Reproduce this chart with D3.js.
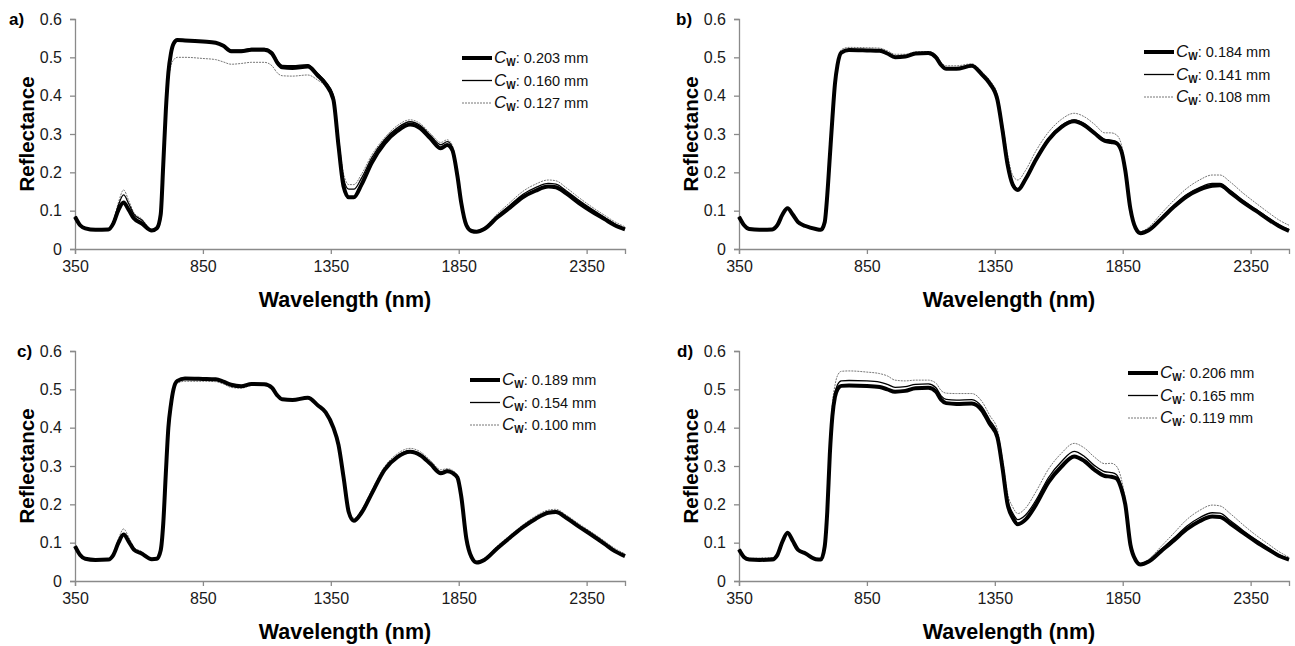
<!DOCTYPE html>
<html>
<head>
<meta charset="utf-8">
<script src="https://cdn.jsdelivr.net/npm/d3@7"></script>
<style>
  body { margin: 0; background: #fff; }
  svg { display: block; font-family: "Liberation Sans", Arial, sans-serif; }
</style>
</head>
<body>
<div id="chart"></div>
<script>
// wavelength grid (nm) shared by all spectra
const wavelengths = [350, 370, 390, 430, 480, 500, 520, 540, 560, 580, 610, 650, 670, 685, 695, 705, 715, 725, 735, 750,
  780, 850, 900, 930, 960, 1000, 1040, 1090, 1120, 1140, 1160, 1200, 1260, 1300, 1330, 1360, 1380, 1400, 1420, 1440,
  1470, 1510, 1560, 1610, 1660, 1700, 1740, 1780, 1805, 1825, 1845, 1860, 1880, 1900, 1920, 1950, 2000, 2050, 2100, 2150,
  2200, 2230, 2270, 2320, 2370, 2420, 2460, 2500]

// panel a
const a203 = [0.084, 0.062, 0.054, 0.050, 0.051, 0.067, 0.102, 0.121, 0.102, 0.080, 0.067, 0.048, 0.054, 0.090, 0.220, 0.360, 0.460, 0.510, 0.535, 0.545,
  0.544, 0.541, 0.538, 0.530, 0.516, 0.516, 0.520, 0.520, 0.510, 0.487, 0.474, 0.472, 0.476, 0.452, 0.430, 0.390, 0.270, 0.163, 0.135, 0.135,
  0.168, 0.225, 0.276, 0.308, 0.325, 0.315, 0.288, 0.263, 0.271, 0.258, 0.190, 0.120, 0.062, 0.047, 0.045, 0.052, 0.082, 0.108, 0.135, 0.152,
  0.163, 0.161, 0.145, 0.120, 0.098, 0.078, 0.062, 0.051]
const a160 = [0.085, 0.063, 0.055, 0.051, 0.052, 0.071, 0.115, 0.141, 0.118, 0.091, 0.076, 0.050, 0.055, 0.090, 0.220, 0.360, 0.460, 0.510, 0.535, 0.545,
  0.545, 0.542, 0.539, 0.532, 0.519, 0.519, 0.523, 0.523, 0.514, 0.492, 0.479, 0.478, 0.481, 0.457, 0.436, 0.400, 0.285, 0.183, 0.156, 0.156,
  0.185, 0.238, 0.285, 0.316, 0.332, 0.322, 0.296, 0.272, 0.280, 0.266, 0.195, 0.122, 0.063, 0.048, 0.046, 0.054, 0.086, 0.114, 0.142, 0.160,
  0.171, 0.169, 0.152, 0.127, 0.104, 0.083, 0.066, 0.054]
const a127 = [0.085, 0.064, 0.056, 0.052, 0.053, 0.073, 0.122, 0.154, 0.126, 0.095, 0.079, 0.052, 0.056, 0.090, 0.210, 0.340, 0.435, 0.478, 0.493, 0.500,
  0.500, 0.497, 0.494, 0.488, 0.482, 0.484, 0.487, 0.487, 0.478, 0.460, 0.452, 0.451, 0.454, 0.440, 0.425, 0.398, 0.292, 0.196, 0.168, 0.168,
  0.195, 0.245, 0.290, 0.322, 0.337, 0.327, 0.301, 0.278, 0.285, 0.270, 0.198, 0.125, 0.066, 0.050, 0.048, 0.057, 0.091, 0.121, 0.150, 0.169,
  0.180, 0.178, 0.160, 0.134, 0.110, 0.088, 0.071, 0.058]

// panel b
const b184 = [0.084, 0.062, 0.052, 0.050, 0.051, 0.062, 0.090, 0.106, 0.090, 0.071, 0.060, 0.052, 0.050, 0.070, 0.140, 0.240, 0.340, 0.430, 0.480, 0.512,
  0.519, 0.518, 0.517, 0.510, 0.500, 0.502, 0.510, 0.511, 0.500, 0.480, 0.470, 0.470, 0.478, 0.455, 0.432, 0.390, 0.310, 0.220, 0.168, 0.154,
  0.182, 0.232, 0.285, 0.318, 0.333, 0.323, 0.302, 0.282, 0.279, 0.276, 0.255, 0.205, 0.105, 0.055, 0.041, 0.048, 0.078, 0.110, 0.137, 0.155,
  0.165, 0.166, 0.148, 0.122, 0.100, 0.077, 0.060, 0.047]
const b141 = [0.084, 0.062, 0.052, 0.050, 0.051, 0.062, 0.091, 0.107, 0.091, 0.072, 0.061, 0.053, 0.051, 0.070, 0.140, 0.240, 0.340, 0.430, 0.480, 0.514,
  0.521, 0.520, 0.519, 0.512, 0.502, 0.504, 0.511, 0.512, 0.502, 0.482, 0.472, 0.472, 0.479, 0.457, 0.434, 0.393, 0.314, 0.225, 0.172, 0.158,
  0.186, 0.236, 0.289, 0.322, 0.337, 0.327, 0.306, 0.286, 0.284, 0.280, 0.258, 0.207, 0.106, 0.056, 0.042, 0.050, 0.081, 0.114, 0.142, 0.160,
  0.171, 0.171, 0.153, 0.127, 0.104, 0.081, 0.064, 0.051]
const b108 = [0.085, 0.063, 0.053, 0.051, 0.052, 0.063, 0.092, 0.108, 0.092, 0.073, 0.062, 0.054, 0.052, 0.070, 0.140, 0.240, 0.345, 0.435, 0.487, 0.520,
  0.526, 0.525, 0.524, 0.517, 0.508, 0.508, 0.514, 0.515, 0.506, 0.487, 0.478, 0.478, 0.483, 0.462, 0.440, 0.402, 0.328, 0.245, 0.192, 0.180,
  0.205, 0.255, 0.305, 0.338, 0.354, 0.345, 0.325, 0.303, 0.303, 0.298, 0.272, 0.215, 0.110, 0.060, 0.046, 0.056, 0.092, 0.127, 0.158, 0.180,
  0.193, 0.193, 0.175, 0.146, 0.120, 0.095, 0.076, 0.062]

// panel c
const c189 = [0.091, 0.068, 0.058, 0.055, 0.056, 0.068, 0.100, 0.121, 0.103, 0.082, 0.072, 0.057, 0.058, 0.080, 0.150, 0.280, 0.400, 0.460, 0.500, 0.522,
  0.528, 0.527, 0.526, 0.520, 0.512, 0.508, 0.514, 0.513, 0.504, 0.485, 0.474, 0.472, 0.478, 0.458, 0.440, 0.400, 0.355, 0.270, 0.180, 0.157,
  0.178, 0.228, 0.290, 0.323, 0.337, 0.328, 0.305, 0.281, 0.286, 0.282, 0.270, 0.220, 0.110, 0.062, 0.048, 0.055, 0.085, 0.113, 0.140, 0.162,
  0.178, 0.180, 0.165, 0.142, 0.120, 0.097, 0.078, 0.065]
const c154 = [0.090, 0.067, 0.057, 0.055, 0.056, 0.068, 0.101, 0.122, 0.104, 0.083, 0.073, 0.058, 0.058, 0.080, 0.150, 0.280, 0.400, 0.460, 0.500, 0.522,
  0.527, 0.526, 0.525, 0.519, 0.511, 0.508, 0.513, 0.513, 0.504, 0.485, 0.474, 0.472, 0.478, 0.458, 0.440, 0.401, 0.357, 0.273, 0.183, 0.160,
  0.181, 0.231, 0.292, 0.326, 0.340, 0.331, 0.308, 0.284, 0.289, 0.285, 0.272, 0.222, 0.111, 0.063, 0.049, 0.056, 0.087, 0.115, 0.142, 0.164,
  0.180, 0.182, 0.167, 0.144, 0.122, 0.099, 0.080, 0.067]
const c100 = [0.090, 0.068, 0.059, 0.057, 0.058, 0.072, 0.110, 0.136, 0.114, 0.088, 0.077, 0.060, 0.060, 0.080, 0.150, 0.270, 0.390, 0.450, 0.493, 0.516,
  0.521, 0.521, 0.520, 0.514, 0.505, 0.503, 0.510, 0.511, 0.502, 0.483, 0.473, 0.472, 0.478, 0.459, 0.441, 0.403, 0.360, 0.278, 0.188, 0.164,
  0.186, 0.237, 0.298, 0.332, 0.346, 0.337, 0.314, 0.290, 0.293, 0.289, 0.275, 0.224, 0.113, 0.066, 0.052, 0.060, 0.091, 0.119, 0.146, 0.169,
  0.185, 0.187, 0.172, 0.149, 0.127, 0.104, 0.085, 0.071]

// panel d
const d206 = [0.082, 0.062, 0.056, 0.055, 0.056, 0.068, 0.103, 0.126, 0.105, 0.082, 0.072, 0.057, 0.056, 0.090, 0.180, 0.330, 0.430, 0.480, 0.500, 0.509,
  0.510, 0.509, 0.506, 0.500, 0.494, 0.496, 0.503, 0.504, 0.494, 0.473, 0.464, 0.462, 0.463, 0.445, 0.410, 0.375, 0.295, 0.200, 0.165, 0.148,
  0.160, 0.198, 0.258, 0.298, 0.325, 0.313, 0.290, 0.274, 0.272, 0.268, 0.240, 0.200, 0.095, 0.055, 0.043, 0.050, 0.078, 0.106, 0.135, 0.156,
  0.168, 0.167, 0.150, 0.126, 0.103, 0.082, 0.066, 0.056]
const d165 = [0.083, 0.063, 0.058, 0.058, 0.059, 0.070, 0.105, 0.127, 0.106, 0.083, 0.073, 0.058, 0.057, 0.090, 0.180, 0.330, 0.440, 0.490, 0.512, 0.522,
  0.523, 0.522, 0.519, 0.513, 0.505, 0.507, 0.513, 0.514, 0.504, 0.483, 0.474, 0.472, 0.473, 0.454, 0.420, 0.385, 0.305, 0.212, 0.177, 0.160,
  0.172, 0.210, 0.270, 0.311, 0.338, 0.325, 0.301, 0.285, 0.283, 0.278, 0.248, 0.205, 0.097, 0.056, 0.044, 0.052, 0.082, 0.112, 0.143, 0.165,
  0.178, 0.177, 0.158, 0.132, 0.108, 0.086, 0.069, 0.058]
const d119 = [0.084, 0.064, 0.059, 0.060, 0.061, 0.071, 0.106, 0.128, 0.107, 0.084, 0.074, 0.059, 0.058, 0.090, 0.190, 0.340, 0.460, 0.510, 0.536, 0.547,
  0.548, 0.545, 0.541, 0.535, 0.524, 0.522, 0.524, 0.524, 0.516, 0.497, 0.490, 0.489, 0.489, 0.468, 0.432, 0.395, 0.318, 0.228, 0.193, 0.176,
  0.190, 0.232, 0.292, 0.333, 0.359, 0.347, 0.323, 0.306, 0.307, 0.300, 0.265, 0.212, 0.100, 0.058, 0.046, 0.056, 0.090, 0.125, 0.160, 0.184,
  0.198, 0.196, 0.176, 0.147, 0.120, 0.096, 0.077, 0.062]

// tick values and legend labels
const xTicks = [350, 850, 1350, 1850, 2350]
const yTicks = [0, 0.1, 0.2, 0.3, 0.4, 0.5, 0.6]
const panelLabels = ["a)", "b)", "c)", "d)"]
const cwLabels = [
  ["0.203", "0.160", "0.127"],
  ["0.184", "0.141", "0.108"],
  ["0.189", "0.154", "0.100"],
  ["0.206", "0.165", "0.119"],
]
const panelSeries = [
  [a203, a160, a127],
  [b184, b141, b108],
  [c189, c154, c100],
  [d206, d165, d119],
]

// layout of the four panels
const plotW = 550, plotH = 230
const panelLeft = [75, 739, 75, 739]
const panelTop = [19, 19, 351, 351]
const tagX = [9, 676, 17, 677]
const legendX = [462, 1144, 470, 1128]
const legendY = [58, 52, 380, 373]

// thick, thin, dotted
const lineStyles = [
  { stroke: "#000", width: 4, dash: null },
  { stroke: "#000", width: 1.3, dash: null },
  { stroke: "#777", width: 1, dash: "2,1" },
]

const svg = d3.select("#chart").append("svg")
  .attr("width", 1295)
  .attr("height", 646)

const x = d3.scaleLinear().domain([350, 2500]).range([0, plotW])
const y = d3.scaleLinear().domain([0, 0.6]).range([plotH, 0])

panelLabels.forEach((tag, p) => {
  const g = svg.append("g")
    .attr("transform", `translate(${panelLeft[p]},${panelTop[p]})`)

  // x axis
  const xa = g.append("g")
    .attr("transform", `translate(0,${plotH})`)
    .call(d3.axisBottom(x).tickValues(xTicks).tickFormat(d3.format("d")).tickSizeOuter(0).tickSize(5).tickPadding(7))
  // y axis
  const ya = g.append("g")
    .call(d3.axisLeft(y).tickValues(yTicks).tickFormat(d => d === 0 ? "0" : d3.format(".1f")(d)).tickSizeOuter(0).tickSize(5).tickPadding(8))

  ;[xa, ya].forEach(a => {
    a.select(".domain").attr("stroke", "#8a8a8a").attr("stroke-width", 1.3)
    a.selectAll(".tick line").attr("stroke", "#8a8a8a").attr("stroke-width", 1.3)
    a.selectAll(".tick text").attr("fill", "#1a1a1a").style("font-size", "16px")
      .style("font-family", "'Liberation Sans', Arial, sans-serif")
  })

  // spectra, dotted first so the thick one sits on top
  const line = d3.line()
    .x((d, i) => x(wavelengths[i]))
    .y(d => y(d))
    .curve(d3.curveMonotoneX)

  ;[2, 1, 0].forEach(k => {
    g.append("path")
      .datum(panelSeries[p][k])
      .attr("fill", "none")
      .attr("stroke", lineStyles[k].stroke)
      .attr("stroke-width", lineStyles[k].width)
      .attr("stroke-dasharray", lineStyles[k].dash)
      .attr("stroke-linejoin", "round")
      .attr("d", line)
  })

  // axis titles
  g.append("text")
    .attr("transform", `translate(${27 - panelLeft[p] + (p % 2 ? 664 : 0)},${plotH / 2}) rotate(-90)`)
    .attr("text-anchor", "middle")
    .attr("dy", "0.35em")
    .style("font-size", "20.5px")
    .style("font-weight", "bold")
    .text("Reflectance")

  g.append("text")
    .attr("x", plotW / 2 - 5)
    .attr("y", plotH + 58)
    .attr("text-anchor", "middle")
    .style("font-size", "21.5px")
    .style("font-weight", "bold")
    .text("Wavelength (nm)")

  // panel tag
  svg.append("text")
    .attr("x", tagX[p])
    .attr("y", panelTop[p] + 6)
    .style("font-size", "17px")
    .style("font-weight", "bold")
    .text(tag)

  // legend
  cwLabels[p].forEach((lab, k) => {
    const ly = legendY[p] + k * 22.5
    svg.append("line")
      .attr("x1", legendX[p]).attr("x2", legendX[p] + 30)
      .attr("y1", ly).attr("y2", ly)
      .attr("stroke", lineStyles[k].stroke)
      .attr("stroke-width", lineStyles[k].width)
      .attr("stroke-dasharray", lineStyles[k].dash)
    const t = svg.append("text")
      .attr("x", legendX[p] + 32)
      .attr("y", ly + 5)
      .style("font-size", "14.5px")
      .attr("fill", "#111")
    t.append("tspan").style("font-style", "italic").style("font-size", "17px").text("C")
    t.append("tspan").attr("dy", 3).style("font-size", "10px").style("font-weight", "bold").text("W")
    t.append("tspan").attr("dy", -3).text(`: ${lab} mm`)
  })
})
</script>
</body>
</html>
